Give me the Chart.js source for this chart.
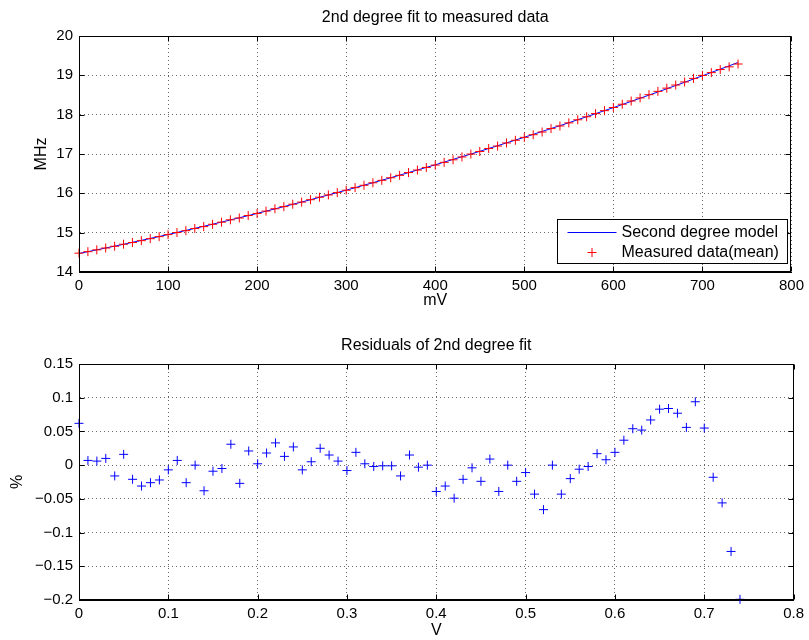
<!DOCTYPE html>
<html>
<head>
<meta charset="utf-8">
<script src="https://cdn.jsdelivr.net/npm/chart.js@4.4.1/dist/chart.umd.min.js"></script>
<style>
  html, body { margin: 0; padding: 0; background: #fff; }
  #wrap { position: relative; width: 809px; height: 640px; }
  canvas { position: absolute; left: 0; }
  #fit-chart { top: 0; }
  #res-chart { top: 320px; }
</style>
</head>
<body>
<div id="wrap">
  <canvas id="fit-chart" width="809" height="320"></canvas>
  <canvas id="res-chart" width="809" height="320"></canvas>
</div>
<script>
// ── Data ─────────────────────────────────────────────────
// measured points, mV
const mV = [
  0, 10, 20, 30, 40, 50, 60, 70, 80, 90,
  100, 110, 120, 130, 140, 150, 160, 170, 180, 190,
  200, 210, 220, 230, 240, 250, 260, 270, 280, 290,
  300, 310, 320, 330, 340, 350, 360, 370, 380, 390,
  400, 410, 420, 430, 440, 450, 460, 470, 480, 490,
  500, 510, 520, 530, 540, 550, 560, 570, 580, 590,
  600, 610, 620, 630, 640, 650, 660, 670, 680, 690,
  700, 710, 720, 730, 740
];
// measured data (mean), MHz
const measuredMHz = [
  14.479, 14.517, 14.563, 14.610, 14.654, 14.706, 14.750, 14.797, 14.847, 14.899,
  14.951, 15.004, 15.051, 15.107, 15.154, 15.213, 15.267, 15.327, 15.373, 15.436,
  15.489, 15.548, 15.608, 15.662, 15.723, 15.777, 15.838, 15.901, 15.959, 16.019,
  16.079, 16.145, 16.205, 16.268, 16.331, 16.396, 16.458, 16.528, 16.592, 16.658,
  16.718, 16.788, 16.853, 16.925, 16.998, 17.064, 17.141, 17.202, 17.281, 17.349,
  17.423, 17.490, 17.559, 17.646, 17.712, 17.791, 17.870, 17.947, 18.027, 18.102,
  18.182, 18.265, 18.347, 18.426, 18.508, 18.592, 18.674, 18.754, 18.832, 18.922,
  18.998, 19.069, 19.147, 19.216, 19.288
];
// second degree model, MHz
const modelMV  = [0, 50, 100, 150, 200, 250, 300, 350, 400, 450, 500, 550, 600, 650, 700, 740];
const modelMHz = [14.470, 14.704, 14.952, 15.214, 15.489, 15.778, 16.080, 16.396,
                  16.725, 17.068, 17.425, 17.795, 18.179, 18.577, 18.988, 19.326];

// residuals, V vs %
const volts = [
  0.00, 0.01, 0.02, 0.03, 0.04, 0.05, 0.06, 0.07, 0.08, 0.09,
  0.10, 0.11, 0.12, 0.13, 0.14, 0.15, 0.16, 0.17, 0.18, 0.19,
  0.20, 0.21, 0.22, 0.23, 0.24, 0.25, 0.26, 0.27, 0.28, 0.29,
  0.30, 0.31, 0.32, 0.33, 0.34, 0.35, 0.36, 0.37, 0.38, 0.39,
  0.40, 0.41, 0.42, 0.43, 0.44, 0.45, 0.46, 0.47, 0.48, 0.49,
  0.50, 0.51, 0.52, 0.53, 0.54, 0.55, 0.56, 0.57, 0.58, 0.59,
  0.60, 0.61, 0.62, 0.63, 0.64, 0.65, 0.66, 0.67, 0.68, 0.69,
  0.70, 0.71, 0.72, 0.73, 0.74
];
const residualPct = [
  0.062, 0.007, 0.006, 0.010, -0.016, 0.016, -0.021, -0.031, -0.026, -0.022,
  -0.007, 0.007, -0.026, 0.000, -0.038, -0.009, -0.005, 0.031, -0.027, 0.021,
  0.002, 0.018, 0.033, 0.013, 0.027, -0.007, 0.005, 0.025, 0.015, 0.006,
  -0.008, 0.019, 0.002, -0.002, -0.001, -0.001, -0.016, 0.015, -0.003, 0.000,
  -0.039, -0.031, -0.049, -0.021, -0.004, -0.024, 0.009, -0.039, 0.000, -0.024,
  -0.011, -0.043, -0.066, 0.000, -0.043, -0.020, -0.006, -0.002, 0.017, 0.008,
  0.019, 0.037, 0.054, 0.052, 0.067, 0.083, 0.084, 0.077, 0.056, 0.094,
  0.055, -0.018, -0.056, -0.128, -0.199
];

// ── Shared look ──────────────────────────────────────────
const FONT = "'Liberation Sans', Arial, Helvetica, sans-serif";
Chart.defaults.font.family = FONT;
Chart.defaults.font.size = 15;
Chart.defaults.color = '#000';

const zip = (xs, ys) => xs.map((x, i) => ({ x, y: ys[i] }));
const fmt = v => String(Number(v.toFixed(3))).replace('-', '\u2212');

// box + inward tick marks like matlab axes
const boxPlugin = {
  id: 'box',
  afterDraw(chart) {
    const { ctx, chartArea: a, scales } = chart;
    const L = Math.round(a.left) + 0.5, R = Math.round(a.right) - 0.5;
    const T = Math.round(a.top) + 0.5, B = Math.round(a.bottom) - 0.5;
    ctx.save();
    ctx.strokeStyle = '#000';
    ctx.lineWidth = 1;
    ctx.strokeRect(L, T, R - L, B - T);
    ctx.beginPath();
    scales.x.ticks.forEach(t => {
      const px = Math.round(scales.x.getPixelForValue(t.value)) + 0.5;
      ctx.moveTo(px, B); ctx.lineTo(px, B - 5);
      ctx.moveTo(px, T); ctx.lineTo(px, T + 5);
    });
    scales.y.ticks.forEach(t => {
      const py = Math.round(scales.y.getPixelForValue(t.value)) + 0.5;
      ctx.moveTo(L, py); ctx.lineTo(L + 5, py);
      ctx.moveTo(R, py); ctx.lineTo(R - 5, py);
    });
    ctx.stroke();
    ctx.restore();
  }
};

// legend box in lower right of the fit plot
const legendPlugin = {
  id: 'boxLegend',
  afterDraw(chart) {
    if (!chart.options.plugins.boxLegend) return;
    const { ctx, chartArea: a } = chart;
    const [model, meas] = chart.data.datasets;
    const w = 230, h = 44;
    const x0 = Math.round(a.right) - 4 - w + 0.5, y0 = Math.round(a.bottom) - 9 - h + 0.5;
    ctx.save();
    ctx.fillStyle = '#fff';
    ctx.fillRect(x0, y0, w, h);
    ctx.strokeStyle = '#000';
    ctx.lineWidth = 1;
    ctx.strokeRect(x0, y0, w, h);
    // line sample
    ctx.strokeStyle = model.borderColor;
    ctx.beginPath();
    ctx.moveTo(x0 + 10, y0 + 13); ctx.lineTo(x0 + 59, y0 + 13);
    ctx.stroke();
    // cross sample
    ctx.strokeStyle = meas.borderColor;
    ctx.beginPath();
    ctx.moveTo(x0 + 30, y0 + 33); ctx.lineTo(x0 + 39, y0 + 33);
    ctx.moveTo(x0 + 34.5, y0 + 28.5); ctx.lineTo(x0 + 34.5, y0 + 37.5);
    ctx.stroke();
    ctx.fillStyle = '#000';
    ctx.font = '16px ' + FONT;
    ctx.textBaseline = 'middle';
    ctx.fillText(model.label, x0 + 64, y0 + 13);
    ctx.fillText(meas.label, x0 + 64, y0 + 33);
    ctx.restore();
  }
};

function axis(min, max, step, title, titlePad, fit) {
  return {
    type: 'linear', min, max,
    ticks: { stepSize: step, padding: fit.pad, callback: v => fmt(v), font: { size: 15 } },
    grid: { drawTicks: false, color: 'rgba(0,0,0,0.6)', lineWidth: 1 },
    border: { display: true, color: '#000', dash: [1, 3] },
    title: { display: true, text: title, padding: titlePad, font: { size: 16 } },
    afterFit: s => { if (fit.w) s.width = fit.w; if (fit.h) s.height = fit.h; },
  };
}

// ── Top: fit ─────────────────────────────────────────────
new Chart(document.getElementById('fit-chart'), {
  type: 'scatter',
  data: {
    datasets: [
      {
        label: 'Second degree model',
        data: zip(modelMV, modelMHz),
        showLine: true,
        borderColor: '#0000ff',
        borderWidth: 1,
        pointRadius: 0,
        cubicInterpolationMode: 'monotone',
        clip: false,
        order: 2,
      },
      {
        label: 'Measured data(mean)',
        data: zip(mV, measuredMHz),
        showLine: false,
        pointStyle: 'cross',
        pointRadius: 4.5,
        borderColor: '#ff0000',
        borderWidth: 1,
        clip: false,
        order: 1,
      },
    ],
  },
  options: {
    responsive: false,
    animation: false,
    devicePixelRatio: 1,
    layout: { padding: { top: 8, right: 14, bottom: 10, left: 0 } },
    plugins: {
      legend: { display: false },
      tooltip: { enabled: false },
      title: {
        display: true, fullSize: false, text: '2nd degree fit to measured data',
        color: '#000', font: { size: 16, weight: 'normal' },
        padding: { top: 0, bottom: 8.8 },
      },
      boxLegend: true,
    },
    scales: {
      x: axis(0, 800, 100, 'mV', { top: 0, bottom: 0 }, { h: 38, pad: 5 }),
      y: axis(14, 20, 1, 'MHz', { top: 32, bottom: 0 }, { w: 79, pad: 6 }),
    },
  },
  plugins: [boxPlugin, legendPlugin],
});

// ── Bottom: residuals ────────────────────────────────────
new Chart(document.getElementById('res-chart'), {
  type: 'scatter',
  data: {
    datasets: [{
      label: 'Residuals',
      data: zip(volts, residualPct),
      pointStyle: 'cross',
      pointRadius: 4.5,
      borderColor: '#0000ff',
      borderWidth: 1,
      clip: false,
    }],
  },
  options: {
    responsive: false,
    animation: false,
    devicePixelRatio: 1,
    layout: { padding: { top: 16, right: 14, bottom: 0, left: 0 } },
    plugins: {
      legend: { display: false },
      tooltip: { enabled: false },
      title: {
        display: true, fullSize: false, text: 'Residuals of 2nd degree fit',
        color: '#000', font: { size: 16, weight: 'normal' },
        padding: { top: 0, bottom: 8.8 },
      },
    },
    scales: {
      x: axis(0, 0.8, 0.1, 'V', { top: 0, bottom: 0 }, { h: 40, pad: 5 }),
      y: axis(-0.2, 0.15, 0.05, '%', { top: 8, bottom: 0 }, { w: 79, pad: 6 }),
    },
  },
  plugins: [boxPlugin],
});
</script>
</body>
</html>
